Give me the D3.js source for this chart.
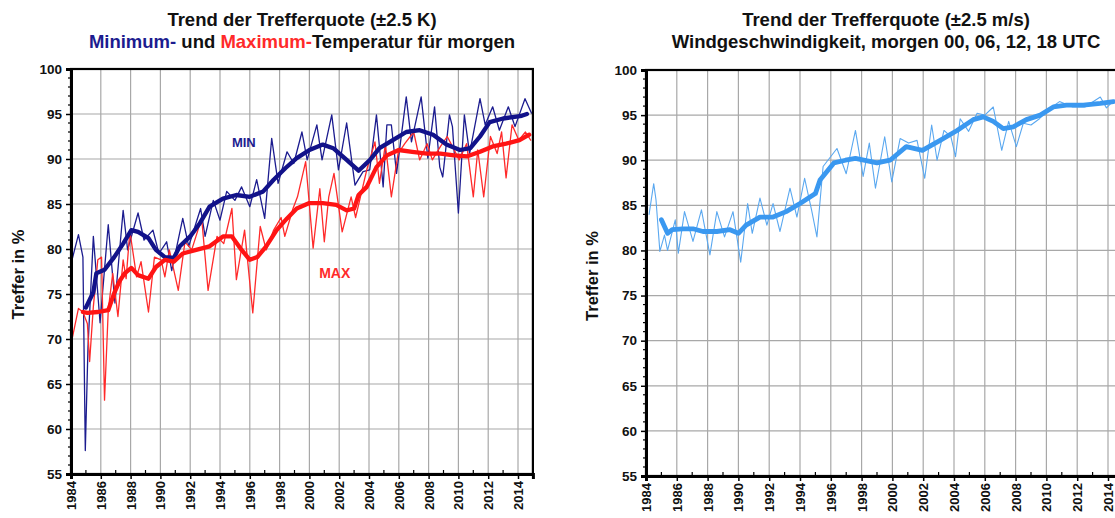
<!DOCTYPE html>
<html><head><meta charset="utf-8">
<script src="https://cdn.jsdelivr.net/npm/d3@7"></script>
<style>body{margin:0;background:#fff}svg{display:block}text{font-family:"Liberation Sans",Arial,sans-serif;font-weight:bold}</style>
</head><body><svg id="c" width="1115" height="518"></svg>
<script>
// ---------- DATA ----------
const xTicks = [1984,1986,1988,1990,1992,1994,1996,1998,2000,2002,2004,2006,2008,2010,2012,2014];
const yTicks = [55,60,65,70,75,80,85,90,95,100];

const minThinT = [1984.1,1984.5,1984.8,1984.96,1985.14,1985.5,1985.95,1986.5,1986.95,1987.5,1987.8,1988.5,1988.9,1989.5,1989.9,1990.42,1990.76,1991.5,1991.9,1992.7,1993.0,1993.55,1994.0,1994.45,1995.0,1995.45,1996.0,1996.46,1997.0,1997.47,1997.9,1998.5,1998.95,1999.5,1999.85,2000.5,2000.85,2001.5,2001.95,2002.5,2003.06,2003.6,2004.05,2004.5,2004.95,2005.2,2005.5,2005.85,2006.5,2006.85,2007.5,2007.95,2008.4,2008.75,2008.95,2009.4,2009.6,2010.0,2010.4,2010.75,2011.45,2011.8,2012.3,2012.75,2013.35,2013.8,2014.47,2014.9];
const minThinV = [79.0,81.6,79.1,57.6,69.1,81.4,71.8,82.7,74.0,84.3,79.9,84.0,81.0,82.1,79.5,80.8,77.6,83.4,80.3,84.5,81.4,85.4,83.2,86.4,85.4,86.9,84.7,87.7,83.4,92.3,87.3,90.8,89.5,93.0,89.9,93.8,89.9,94.9,88.8,94.0,87.1,88.6,88.8,94.9,86.9,93.8,93.8,88.4,96.9,91.9,96.9,90.1,95.8,89.1,88.0,94.9,93.6,84.0,94.9,90.6,96.7,93.8,95.8,93.2,95.8,93.6,96.7,95.1];

const minTrendT = [1985.0,1985.5,1985.7,1986.25,1986.9,1987.5,1988.05,1988.5,1989.2,1989.7,1990.3,1990.9,1991.3,1992.0,1992.66,1993.3,1994.2,1995.1,1996.0,1996.9,1997.6,1998.4,1999.15,2000.0,2000.9,2001.6,2002.5,2003.3,2004.07,2004.7,2005.6,2006.5,2007.4,2008.3,2009.2,2010.1,2010.8,2011.45,2012.1,2013.0,2014.25,2014.6];
const minTrendV = [73.5,75.2,77.3,77.7,79.1,80.6,82.1,81.9,81.2,79.9,79.1,79.0,80.3,81.4,82.9,84.7,85.6,86.0,85.8,86.4,87.7,89.0,90.1,91.0,91.6,91.2,89.9,88.7,89.9,91.2,92.1,93.0,93.2,92.7,91.6,91.0,91.2,92.5,94.1,94.5,94.8,95.0];

const maxThinT = [1984.1,1984.5,1984.8,1985.1,1985.25,1985.5,1985.8,1986.05,1986.25,1986.5,1986.8,1987.15,1987.5,1987.7,1987.95,1988.4,1988.7,1989.2,1989.6,1990.05,1990.3,1990.6,1991.2,1991.65,1992.1,1992.77,1993.2,1993.8,1994.25,1994.8,1995.1,1995.65,1996.2,1996.7,1997.1,1997.6,1998.1,1998.35,1998.9,1999.2,1999.75,2000.25,2000.7,2001.0,2001.3,2001.65,2002.2,2002.8,2003.1,2003.85,2004.4,2004.7,2005.1,2005.5,2005.95,2006.4,2007.0,2007.4,2007.9,2008.25,2008.8,2009.25,2009.6,2010.05,2010.55,2011.0,2011.3,2011.7,2012.15,2012.6,2012.9,2013.2,2013.6,2014.05,2014.5,2014.85];
const maxThinV = [70.2,73.4,73.0,71.7,67.5,73.6,78.8,79.1,63.2,73.2,77.3,72.5,78.8,76.7,82.0,76.9,78.6,73.0,79.1,78.8,76.9,79.9,75.4,80.8,79.9,83.4,75.4,81.4,80.6,84.5,76.6,82.1,72.9,82.5,79.9,82.1,83.5,81.4,84.5,85.8,89.7,80.1,86.7,80.8,85.8,88.4,81.9,85.8,83.5,88.8,91.9,87.3,91.6,85.8,90.6,91.7,93.0,89.9,91.7,89.9,91.4,92.5,91.4,89.9,91.7,85.8,91.0,85.8,92.5,90.6,93.0,87.9,93.8,92.1,93.0,92.1];

const maxTrendT = [1984.8,1985.1,1985.8,1986.5,1986.9,1987.25,1987.6,1988.05,1988.5,1989.2,1989.7,1990.3,1990.9,1991.5,1992.4,1993.3,1994.2,1994.8,1995.45,1996.0,1996.5,1997.1,1997.8,1998.5,1999.15,2000.0,2000.9,2001.8,2002.5,2003.0,2003.3,2003.85,2004.5,2005.2,2006.0,2006.9,2007.9,2008.8,2009.7,2010.6,2011.45,2012.3,2013.2,2014.1,2014.75];
const maxTrendV = [73.0,72.9,73.0,73.2,75.1,76.4,77.3,77.9,77.1,76.7,78.0,78.8,78.6,79.5,79.9,80.3,81.4,81.4,79.9,78.8,79.1,80.3,82.1,83.4,84.5,85.1,85.1,84.9,84.3,84.5,86.0,86.9,89.1,90.4,91.0,90.8,90.6,90.6,90.4,90.3,90.8,91.4,91.7,92.1,92.7];

const windThinT = [1984.2,1984.5,1984.65,1984.9,1985.2,1985.4,1985.9,1986.1,1986.5,1987.05,1987.6,1988.15,1988.6,1989.1,1989.65,1990.15,1990.6,1990.9,1991.4,1991.85,1992.25,1992.7,1993.35,1993.8,1994.3,1994.75,1995.1,1995.5,1996.4,1997.0,1997.6,1998.1,1998.5,1998.9,1999.5,1999.96,2000.5,2001.05,2001.6,2002.1,2002.55,2002.9,2003.35,2003.8,2004.1,2004.4,2004.95,2005.5,2006.0,2006.55,2007.1,2007.55,2008.05,2008.5,2009.0,2009.55,2010.1,2010.85,2011.7,2012.5,2013.5,2013.9,2014.3];
const windThinV = [84.0,87.4,85.6,79.9,81.7,80.0,83.4,79.7,84.3,81.0,84.5,79.5,84.3,81.5,84.3,78.7,85.2,81.9,85.8,82.8,85.2,82.1,86.9,83.7,88.0,84.5,81.5,89.3,91.3,88.5,93.3,88.2,91.9,86.9,92.6,87.6,92.4,91.9,92.2,88.0,93.9,90.0,93.3,92.6,90.4,94.6,93.2,95.2,95.0,95.9,91.1,94.3,91.5,94.1,93.9,94.6,95.6,96.5,95.9,95.9,97.0,95.8,96.5];

const windTrendT = [1985.0,1985.4,1985.7,1986.4,1987.05,1987.7,1988.6,1989.45,1990.0,1990.5,1991.4,1992.25,1993.1,1994.0,1995.0,1995.3,1996.2,1996.95,1997.6,1999.0,1999.85,2000.9,2001.95,2003.1,2004.2,2005.25,2005.9,2006.55,2007.2,2007.85,2008.7,2009.6,2010.45,2011.3,2012.4,2013.5,2014.35];
const windTrendV = [83.4,81.9,82.3,82.4,82.4,82.1,82.1,82.3,81.9,82.8,83.7,83.7,84.3,85.2,86.3,87.8,89.7,90.0,90.2,89.7,90.0,91.5,91.1,92.2,93.3,94.5,94.8,94.3,93.5,93.7,94.5,95.0,95.9,96.1,96.1,96.3,96.5];

// ---------- DRAW ----------
const svg = d3.select("#c");
const zip = (T, V) => T.map((t, i) => [t, V[i]]);
const FF = "Liberation Sans, Arial, sans-serif";

function panel(opt) {
  const g = svg.append("g");
  const x = d3.scaleLinear().domain([1984, 2015]).range([opt.x0, opt.x1]);
  const y = d3.scaleLinear().domain([55, 100]).range([opt.y1, opt.y0]);
  const gc = "#a8a8a8";
  g.selectAll(".vg").data(xTicks.slice(1)).join("line")
    .attr("x1", d => x(d)).attr("x2", d => x(d)).attr("y1", opt.y0).attr("y2", opt.y1)
    .attr("stroke", gc).attr("stroke-width", 1.2);
  g.selectAll(".hg").data(yTicks.slice(1)).join("line")
    .attr("x1", opt.x0).attr("x2", opt.x1).attr("y1", d => y(d)).attr("y2", d => y(d))
    .attr("stroke", gc).attr("stroke-width", 1.2);
  const cid = "clip" + opt.id;
  svg.append("clipPath").attr("id", cid).append("rect")
    .attr("x", opt.x0).attr("y", opt.y0).attr("width", opt.x1 - opt.x0).attr("height", opt.y1 - opt.y0);
  const lg = g.append("g").attr("clip-path", `url(#${cid})`);
  const line = d3.line().x(d => x(d[0])).y(d => y(d[1]));
  opt.series.forEach(s => {
    lg.append("path").attr("d", line(s.data)).attr("fill", "none")
      .attr("stroke", s.color).attr("stroke-width", s.w)
      .attr("stroke-linejoin", "round").attr("stroke-linecap", "round");
  });
  g.append("rect").attr("x", opt.x0).attr("y", opt.y0).attr("width", opt.x1 - opt.x0).attr("height", opt.y1 - opt.y0)
    .attr("fill", "none").attr("stroke", "#000").attr("stroke-width", 2.2);
  const ya = d3.axisLeft(y).tickValues(yTicks).tickSize(5).tickPadding(4).tickFormat(d3.format("d"));
  const yag = g.append("g").attr("transform", `translate(${opt.x0},0)`).call(ya);
  yag.select(".domain").attr("stroke-width", 3);
  yag.selectAll(".tick line").attr("stroke-width", 1.5);
  yag.selectAll("text").attr("font-size", 13.5).attr("font-family", FF).attr("font-weight", "bold").attr("fill", "#111");
  const yMinor = d3.range(56, 100).filter(v => v % 5 !== 0);
  g.selectAll(".ym").data(yMinor).join("line")
    .attr("x1", opt.x0 - 3).attr("x2", opt.x0).attr("y1", d => y(d)).attr("y2", d => y(d))
    .attr("stroke", "#000").attr("stroke-width", 1.2);
  const xa = d3.axisBottom(x).tickValues(xTicks).tickSize(5).tickPadding(4).tickFormat(d3.format("d"));
  const xag = g.append("g").attr("transform", `translate(0,${opt.y1})`).call(xa);
  xag.select(".domain").attr("stroke-width", 3);
  xag.selectAll(".tick line").attr("stroke-width", 1.5);
  xag.selectAll("text").attr("font-size", 13).attr("font-family", FF).attr("font-weight", "bold").attr("fill", "#111")
    .attr("transform", "rotate(-90)").attr("text-anchor", "end").attr("x", -7).attr("y", 0).attr("dy", "0.35em");
  const xMinor = d3.range(1985, 2015, 2);
  g.selectAll(".xm").data(xMinor).join("line")
    .attr("x1", d => x(d)).attr("x2", d => x(d)).attr("y1", opt.y1 - 4).attr("y2", opt.y1)
    .attr("stroke", "#000").attr("stroke-width", 1.2);
  g.append("text").attr("transform", `translate(${opt.ylx},${(opt.y0 + opt.y1) / 2 + 3}) rotate(-90)`)
    .attr("text-anchor", "middle").attr("font-size", 16.5).attr("fill", "#111").text("Treffer in %");
  return {x, y, g};
}

const L = panel({id: "L", x0: 71, x1: 71 + 31 * 14.9, y0: 69, y1: 474, ylx: 24,
  series: [
    {data: zip(minThinT, minThinV), color: "#1c1c8f", w: 1.3},
    {data: zip(maxThinT, maxThinV), color: "#ff2a2a", w: 1.3},
    {data: zip(minTrendT, minTrendV), color: "#12128a", w: 4.3},
    {data: zip(maxTrendT, maxTrendV), color: "#ff1414", w: 4.3}
  ]});
const R = panel({id: "R", x0: 646, x1: 646 + 31 * 15.4, y0: 70, y1: 476, ylx: 598,
  series: [
    {data: zip(windThinT, windThinV), color: "#5aa8f0", w: 1.1},
    {data: zip(windTrendT, windTrendV), color: "#3a98f0", w: 4.8}
  ]});

L.g.append("text").attr("x", L.x(1995.6)).attr("y", L.y(91.3)).attr("font-size", 13).attr("fill", "#1c1c8f").attr("text-anchor", "middle").text("MIN");
L.g.append("text").attr("x", L.x(2001.7)).attr("y", L.y(76.8)).attr("font-size", 14).attr("fill", "#ff2a2a").attr("text-anchor", "middle").text("MAX");

const TS = 18.5;
svg.append("text").attr("x", 302).attr("y", 26).attr("text-anchor", "middle").attr("font-size", TS).attr("fill", "#111")
  .text("Trend der Trefferquote (±2.5 K)");
const t2 = svg.append("text").attr("x", 302).attr("y", 48).attr("text-anchor", "middle").attr("font-size", TS).attr("fill", "#111");
t2.append("tspan").attr("fill", "#1c1c8f").text("Minimum-");
t2.append("tspan").text(" und ");
t2.append("tspan").attr("fill", "#ff2a2a").text("Maximum-");
t2.append("tspan").text("Temperatur für morgen");
svg.append("text").attr("x", 886).attr("y", 26).attr("text-anchor", "middle").attr("font-size", TS).attr("fill", "#111").text("Trend der Trefferquote (±2.5 m/s)");
svg.append("text").attr("x", 886).attr("y", 48).attr("text-anchor", "middle").attr("font-size", TS).attr("fill", "#111").text("Windgeschwindigkeit, morgen 00, 06, 12, 18 UTC");
</script></body></html>
